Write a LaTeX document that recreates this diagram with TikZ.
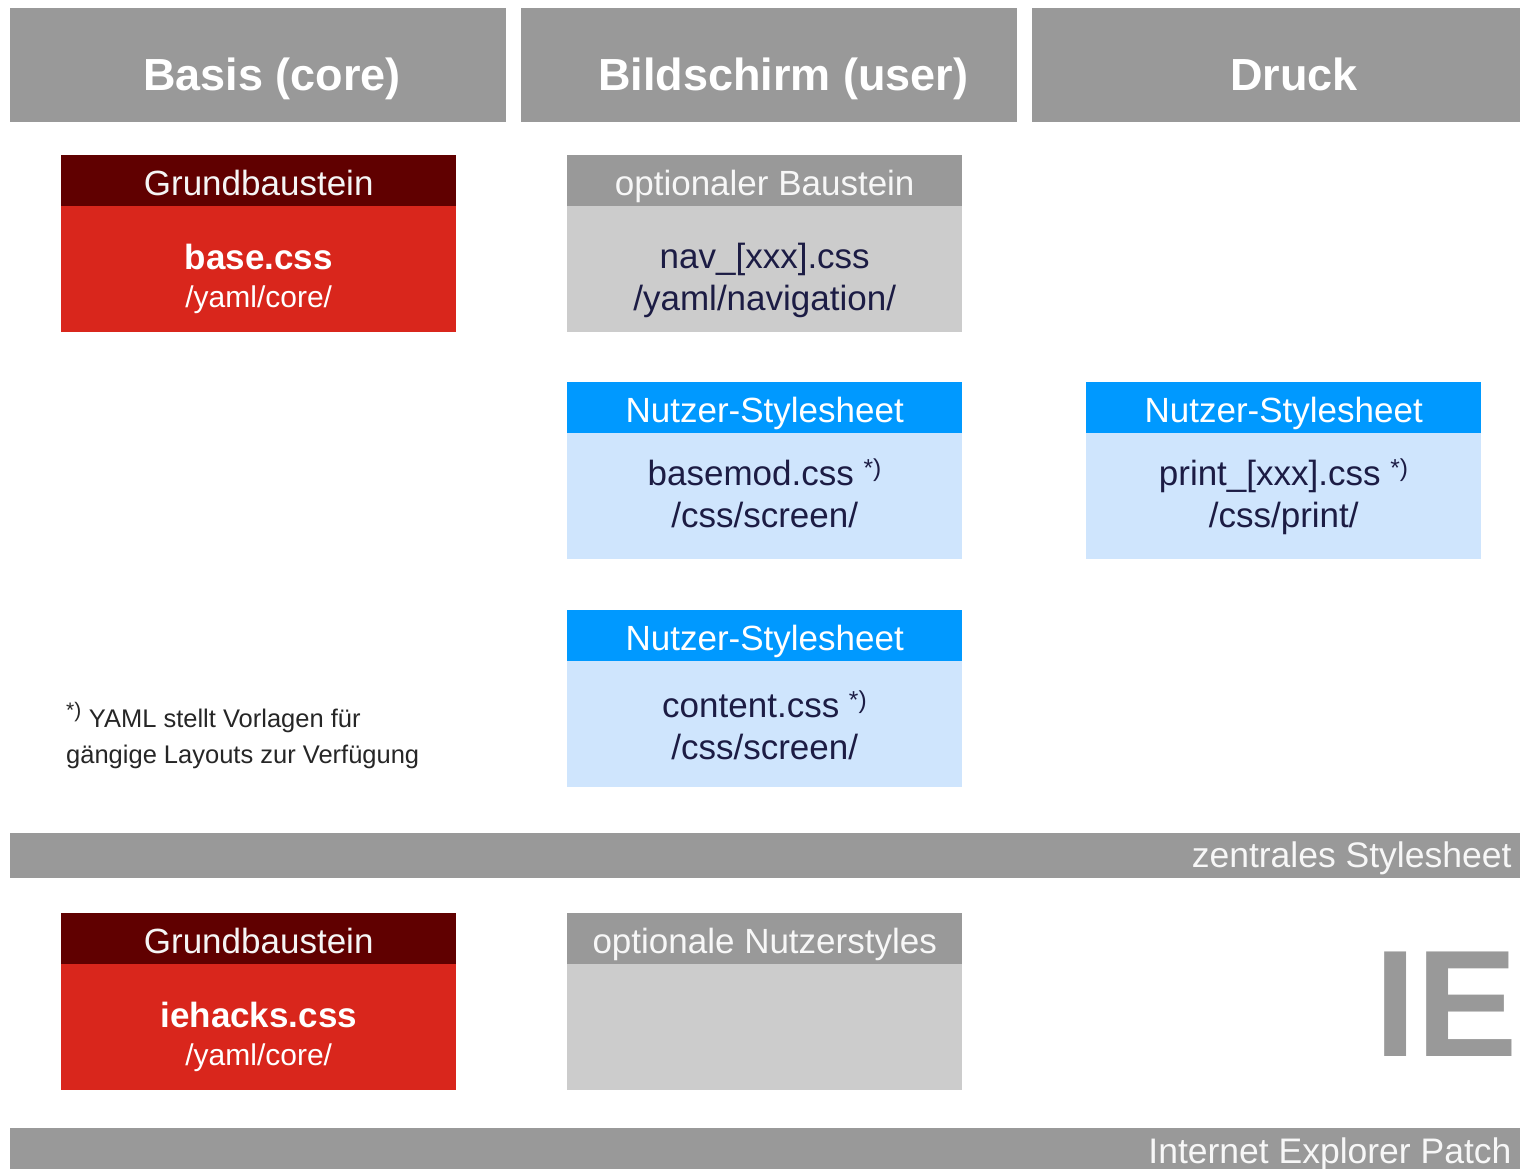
\documentclass[tikz,border=0pt]{standalone}
\usepackage{fontspec}
\setmainfont{Liberation Sans}
\definecolor{headgray}{HTML}{999999}
\definecolor{darkred}{HTML}{600000}
\definecolor{corered}{HTML}{D9261C}
\definecolor{optgray}{HTML}{CCCCCC}
\definecolor{userblue}{HTML}{0099FF}
\definecolor{lightblue}{HTML}{CFE5FD}
\definecolor{navy}{HTML}{1C1C44}
\newcommand\setfs[2]{\fontsize{#1}{#2}\selectfont}
\newcommand\fnmark{\textsuperscript{*)}}
\begin{document}
\begin{tikzpicture}[x=1pt,y=-1pt,
    colhead/.style={fill=headgray,minimum width=496pt,minimum height=114pt,anchor=north west,inner sep=0pt},
    coltitle/.style={text=white,font=\bfseries\setfs{45}{50},anchor=base},
    boxhead/.style={minimum width=395pt,minimum height=51pt,anchor=north west,inner sep=0pt,font=\setfs{35}{40},text height=32pt,text depth=3pt},
    boxbody/.style={minimum width=395pt,minimum height=125.5pt,anchor=north,yshift=0.5pt,inner sep=0pt,align=center,font=\setfs{35}{42},text depth=0pt},
    lastline/.style={text height=#1},
    corehead/.style={boxhead,fill=darkred,text=white!92!gray},
    corebody/.style={boxbody,fill=corered,text=white},
    opthead/.style={boxhead,fill=headgray,text=white!94!gray},
    optbody/.style={boxbody,fill=optgray,text=navy},
    userhead/.style={boxhead,fill=userblue,text=white},
    userbody/.style={boxbody,fill=lightblue,text=navy},
    bar/.style={fill=headgray,minimum width=1510pt,anchor=north west,inner sep=0pt},
    bartext/.style={text=white!94!gray,font=\setfs{35.5}{40},anchor=base east}
  ]
  \useasboundingbox (0,0) rectangle (1520,1168);

  % Spaltenkoepfe
  \node[colhead] (basis) at (10,8) {};
  \node[colhead] (screen) at (521,8) {};
  \node[colhead] (print) at (1032,8) {};
  \node[coltitle] (basistxt) at ([shift={(14,25)}]basis.center) {Basis (core)};
  \node[coltitle] (screentxt) at ([shift={(14,25)}]screen.center) {Bildschirm (user)};
  \node[coltitle] (printtxt) at ([shift={(14,25)}]print.center) {Druck};

  % zentrales Stylesheet
  \node[corehead] (basehd) at (61,155) {Grundbaustein};
  \node[corebody,lastline=78pt] (basebd) at (basehd.south) {{\bfseries base.css}\\[-4pt]{\setfs{30}{36}/yaml/core/}};
  \node[opthead] (navhd) at (567,155) {optionaler Baustein};
  \node[optbody,lastline=84pt] (navbd) at (navhd.south) {nav\_[xxx].css\\/yaml/navigation/};
  \node[userhead] (modhd) at (567,382) {Nutzer-Stylesheet};
  \node[userbody,lastline=64pt] (modbd) at (modhd.south) {basemod.css \fnmark\\/css/screen/};
  \node[userhead] (prnhd) at (1086,382) {Nutzer-Stylesheet};
  \node[userbody,lastline=64pt] (prnbd) at (prnhd.south) {print\_[xxx].css \fnmark\\/css/print/};
  \node[userhead] (conthd) at (567,610) {Nutzer-Stylesheet};
  \node[userbody,lastline=72pt] (contbd) at (conthd.south) {content.css \fnmark\\/css/screen/};

  % Fussnote
  \node[anchor=base west,align=left,inner sep=0pt,text=black!85,font=\setfs{25.5}{36}] (note) at (66,763)
    {{\setfs{30}{36}\fnmark}~YAML stellt Vorlagen für\\gängige Layouts zur Verfügung};

  \node[bar,minimum height=45pt] (zentral) at (10,833) {};
  \node[bartext] (zentraltxt) at (1515,867) {zentrales Stylesheet};

  % IE-Patch
  \node[corehead] (iehd) at (61,913) {Grundbaustein};
  \node[corebody,lastline=78pt] (iebd) at (iehd.south) {{\bfseries iehacks.css}\\[-4pt]{\setfs{30}{36}/yaml/core/}};
  \node[opthead] (uopthd) at (567,913) {optionale Nutzerstyles};
  \node[optbody] (uoptbd) at (uopthd.south) {};
  \node[text=headgray,font=\bfseries\setfs{152}{160},inner sep=0pt] (ie) at (1446,1004) {IE};

  \node[bar,minimum height=50pt] (patch) at (10,1128) {};
  \node[bartext] (patchtxt) at (1515,1163) {Internet Explorer Patch};
\end{tikzpicture}
\end{document}
